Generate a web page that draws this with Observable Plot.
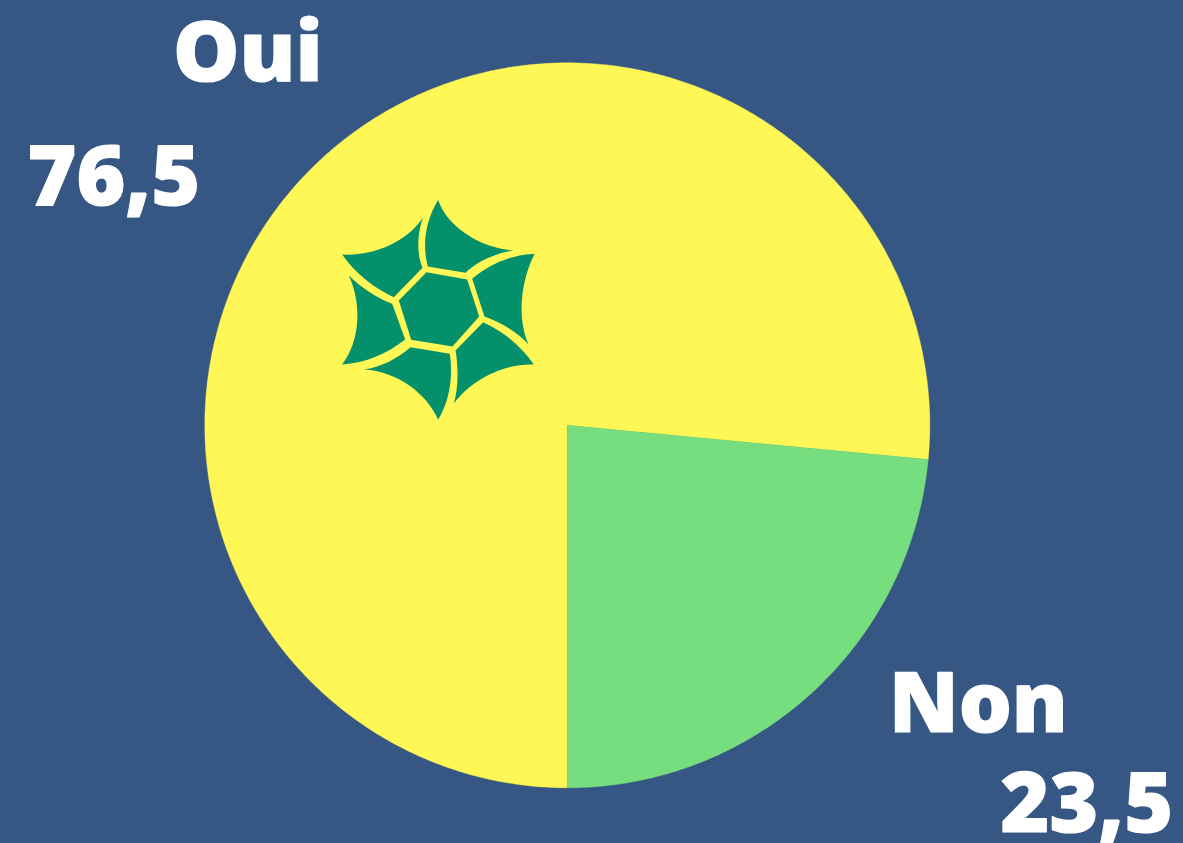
<!DOCTYPE html>
<html>
<head>
<meta charset="utf-8">
<script src="https://cdn.jsdelivr.net/npm/d3@7"></script>
<script src="https://cdn.jsdelivr.net/npm/@observablehq/plot@0.6"></script>
<style>
  html, body { margin: 0; padding: 0; background: #365783; overflow: hidden; }
  svg { display: block; }
</style>
</head>
<body>
<div id="chart"></div>
<script>
// Data
const categories = ["Oui", "Non"];
const percentages = [76.5, 23.5];
const valueLabels = ["76,5", "23,5"];
const sliceColors = ["#FFF755", "#76DE7E"];

// Layout
const W = 1183, H = 843;
const center = { x: 566.8, y: 424.8 }, radius = 362.5;
const nameAnchors = [{ x: 172.5, y: 80.5 }, { x: 888.5, y: 731.5 }];
const valueAnchors = [{ x: 27, y: 204.5 }, { x: 1000, y: 831.5 }];

// Slice outlines, from the values, clockwise from the bottom
const arcs = d3.pie().sort(null).startAngle(Math.PI).endAngle(3 * Math.PI)(percentages);
const outline = arcs.flatMap((a, i) => {
  const n = Math.ceil((a.endAngle - a.startAngle) / (Math.PI / 360));
  const rim = d3.range(n + 1).map((k) => {
    const t = a.startAngle + (a.endAngle - a.startAngle) * k / n;
    return { name: categories[i], x: center.x + radius * Math.sin(t), y: center.y - radius * Math.cos(t) };
  });
  const hub = { name: categories[i], x: center.x, y: center.y };
  return [hub, ...rim, hub];
});

const nameTexts = categories.map((c, i) => ({ text: c, ...nameAnchors[i] }));
const valueTexts = valueLabels.map((c, i) => ({ text: c, ...valueAnchors[i] }));

// Emblem
const emblemPaths = [
  "M288,245 L410,267 L446,378 L366,468 L242,448 L205,330 Z",
  "M323,28 C345,100 440,172 548,180 C495,188 440,213 405,247 L292,228 C276,170 282,95 323,28 Z",
  "M35,192 C120,198 225,160 277,82 C260,130 258,190 276,232 L190,320 C130,292 75,250 35,192 Z",
  "M612,190 C572,270 558,380 594,462 C560,425 510,395 462,378 L425,265 C480,218 545,193 612,190 Z",
  "M610,522 C520,518 420,570 370,640 C384,590 384,530 375,480 L458,395 C520,423 575,470 610,522 Z",
  "M323,688 C290,610 200,542 100,537 C150,530 200,505 240,470 L358,490 C368,560 358,630 323,688 Z",
  "M35,522 C90,450 94,340 55,255 C90,290 135,320 185,340 L224,447 C170,490 105,517 35,522 Z"
];
const emblemSvg = `<svg xmlns="http://www.w3.org/2000/svg" viewBox="0 0 645 720"><g fill="#04906B">${emblemPaths.map((d) => `<path d="${d}"/>`).join("")}</g></svg>`;
const emblemSrc = "data:image/svg+xml;utf8," + encodeURIComponent(emblemSvg);

const labelStyle = {
  x: "x", y: "y", text: "text", fill: "white", stroke: "white", strokeWidth: 1.2, paintOrder: "fill",
  fontSize: 83.5, fontWeight: 800,
  fontFamily: "'Open Sans', sans-serif", textAnchor: "start", lineAnchor: "bottom"
};

const chart = Plot.plot({
  width: W, height: H,
  margin: 0,
  style: { background: "#365783", overflow: "visible" },
  x: { domain: [0, W], range: [0, W], axis: null },
  y: { domain: [0, H], range: [0, H], axis: null },
  color: { domain: categories, range: sliceColors },
  marks: [
    Plot.line(outline, { x: "x", y: "y", z: "name", fill: "name", stroke: "name", strokeWidth: 0.4 }),
    Plot.image([{ x: 437.5, y: 310 }], { x: "x", y: "y", width: 215, height: 240, src: emblemSrc }),
    Plot.text(nameTexts, labelStyle),
    Plot.text(valueTexts, labelStyle)
  ]
});
document.getElementById("chart").appendChild(chart);
</script>
</body>
</html>
